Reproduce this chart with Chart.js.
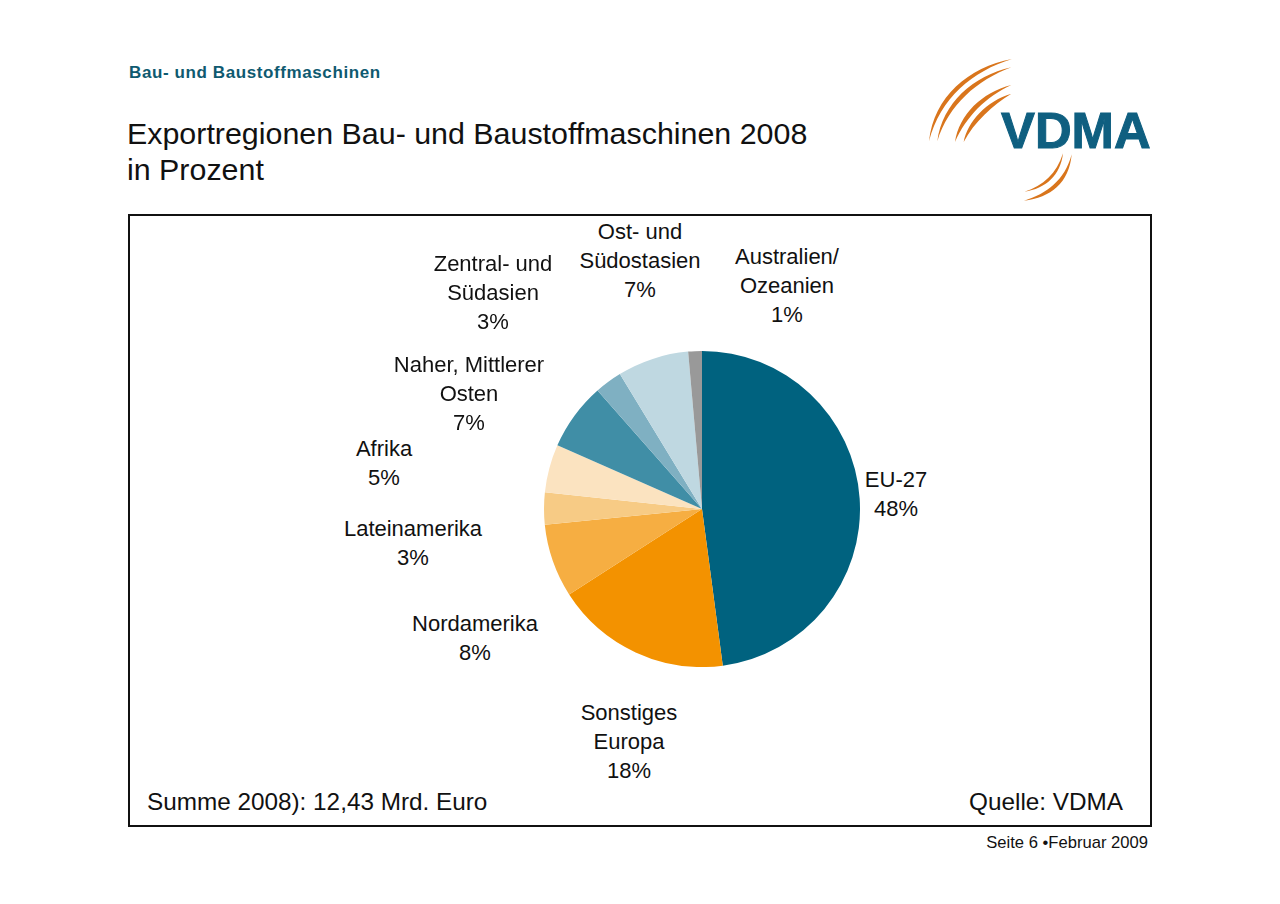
<!DOCTYPE html>
<html>
<head>
<meta charset="utf-8">
<title>Exportregionen</title>
<script src="https://cdn.jsdelivr.net/npm/chart.js@4"></script>
<style>
    html, body { margin: 0; padding: 0; background: #fff; }
    body { width: 1280px; height: 904px; position: relative; overflow: hidden; font-family: "Liberation Sans", Arial, sans-serif; color: #111; }
    .txt { position: absolute; white-space: pre; }
    #frame { position: absolute; left: 128px; top: 214px; width: 1020px; height: 609px; border: 2px solid #111; }
    #chart-area { position: absolute; left: 544px; top: 351px; }
    #logo { position: absolute; left: 900px; top: 40px; }
    .lbl { position: absolute; white-space: pre; text-align: center; font-size: 22px; line-height: 29px; transform: translateX(-50%); }
</style>
</head>
<body>
<div class="txt" style="left:129px;top:63px;font-size:17px;font-weight:bold;color:#0f5a70;letter-spacing:0.6px">Bau- und Baustoffmaschinen</div>
<div class="txt" style="left:127px;top:115px;font-size:30.4px;line-height:36px">Exportregionen Bau- und Baustoffmaschinen 2008
in Prozent</div>

<svg id="logo" width="280" height="170" viewBox="0 0 840 510">
    <g fill="#d9751c">
        <path d="M87 304 C 102 170 205 82 336 57 C 218 93 120 175 87 304 Z"/>
        <path d="M112 304 C 127 190 220 107 334 82 C 232 120 145 195 112 304 Z"/>
        <path d="M165 306 C 177 225 245 157 334 135 C 258 170 198 230 165 306 Z"/>
        <path d="M191 306 C 202 245 260 182 334 161 C 278 196 223 245 191 306 Z"/>
        <path d="M489 340 C 470 400 430 438 373 455 C 437 447 482 405 489 340 Z"/>
        <path d="M515 343 C 495 420 440 462 372 482 C 452 474 508 428 515 343 Z"/>
    </g>
    <text x="303" y="323" font-size="150" font-weight="bold" fill="#0f5f80" stroke="#0f5f80" stroke-width="3" textLength="449" lengthAdjust="spacingAndGlyphs" font-family="Liberation Sans, Arial, sans-serif">VDMA</text>
</svg>

<div id="frame"></div>
<canvas id="chart-area" width="316" height="316"></canvas>
<div id="labels"></div>

<div class="txt" style="left:147px;top:788px;font-size:24.3px">Summe 2008): 12,43 Mrd. Euro</div>
<div class="txt" style="right:157px;top:788px;font-size:24.3px">Quelle: VDMA</div>
<div class="txt" style="right:132px;top:833px;font-size:16.6px">Seite 6 •Februar 2009</div>

<script>
var regions = ["EU-27", "Sonstiges\nEuropa", "Nordamerika", "Lateinamerika", "Afrika", "Naher, Mittlerer\nOsten", "Zentral- und\nSüdasien", "Ost- und\nSüdostasien", "Australien/\nOzeanien"];
// slice sizes, printed percentages are rounded
var shares = [47.9, 18, 7.5, 3.3, 4.9, 6.9, 2.8, 7.3, 1.4];
var printedPercent = [48, 18, 8, 3, 5, 7, 3, 7, 1];
var sliceColors = ["#00627f", "#f39200", "#f6ae42", "#f7cb85", "#fbe3c0", "#408ea6", "#7fb0c2", "#bfd8e1", "#999999"];
// centre x / top y of each label
var labelSpots = [[896, 465], [629, 698], [475, 609], [413, 514], [384, 434], [469, 350], [493, 249], [640, 217], [787, 242]];

var ctx = document.getElementById("chart-area").getContext("2d");
var myGraph = new Chart(ctx, {
    type: 'pie',
    data: {
        labels: regions,
        datasets: [{
            data: shares,
            backgroundColor: sliceColors,
            borderWidth: 0
        }]
    },
    options: {
        responsive: false,
        animation: false,
        layout: { padding: 0 },
        plugins: {
            legend: { display: false },
            tooltip: { enabled: false }
        }
    }
});

var box = document.getElementById("labels");
for (var i = 0; i < regions.length; i++) {
    var el = document.createElement("div");
    el.className = "lbl";
    el.style.left = labelSpots[i][0] + "px";
    el.style.top = labelSpots[i][1] + "px";
    el.textContent = regions[i] + "\n" + printedPercent[i] + "%";
    box.appendChild(el);
}
</script>
</body>
</html>
